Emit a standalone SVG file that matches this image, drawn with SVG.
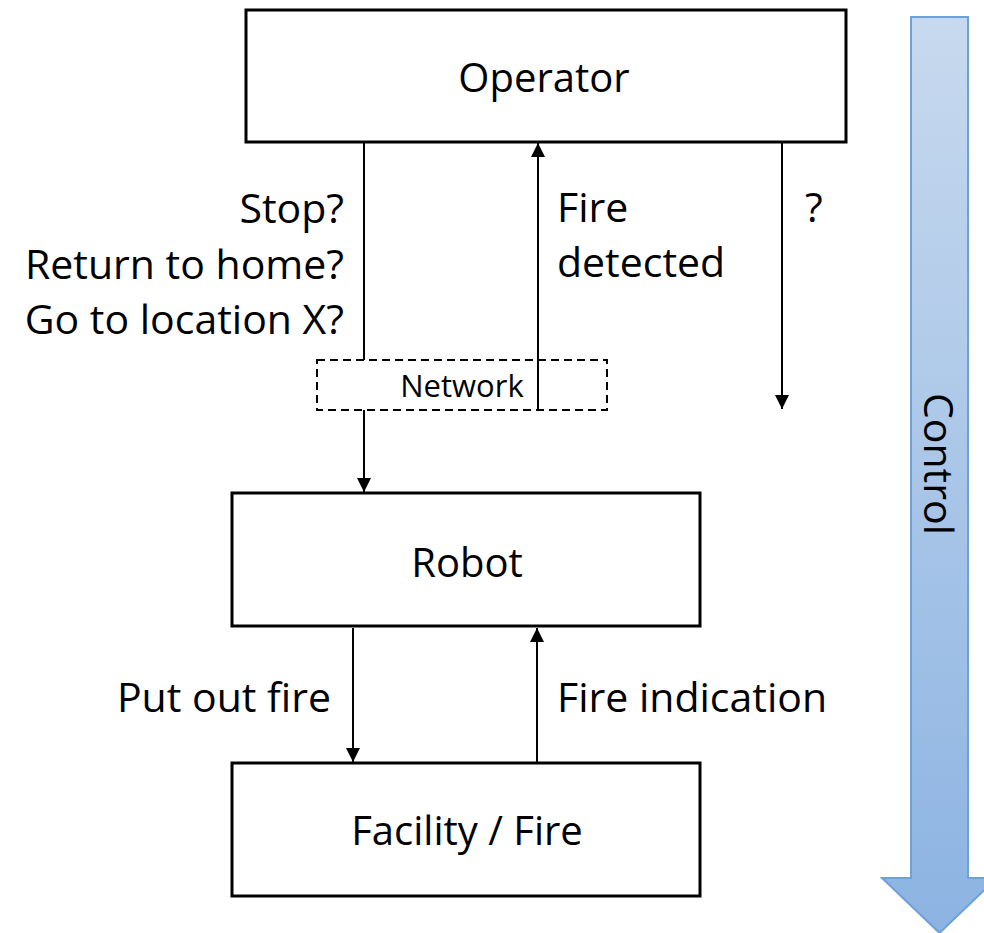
<svg xmlns="http://www.w3.org/2000/svg" width="984" height="933" viewBox="0 0 984 933">
<style>
.box{fill:#fff;stroke:#000;stroke-width:3}
.net{fill:none;stroke:#000;stroke-width:2;stroke-dasharray:8 5}
.ln{stroke:#000;stroke-width:2;fill:none}
text{font-family:"Open Sans","Liberation Sans",sans-serif;fill:#000}
.big{font-size:40px}
.lbl{font-size:41px}
</style>
<defs>
<marker id="ah2" viewBox="0 0 10 10" refX="10" refY="5" markerWidth="14" markerHeight="14" markerUnits="userSpaceOnUse" orient="auto">
<path d="M0,0 L10,5 L0,10 z" fill="#000"/>
</marker>
<linearGradient id="cg" x1="0" y1="0" x2="0" y2="1">
<stop offset="0" stop-color="#c7d9ee"/>
<stop offset="1" stop-color="#8cb3e2"/>
</linearGradient>
</defs>
<g id="control">
<path d="M911,17 L968,17 L968,878 L997,878 L939.5,933 L882,878 L911,878 Z" fill="url(#cg)" stroke="#6fa0d9" stroke-width="2"/>
<text class="lbl" transform="translate(924,464) rotate(90)" text-anchor="middle">Control</text>
</g>
<g id="connectors">
<line class="ln" x1="364" y1="142" x2="364" y2="360"/>
<line class="ln" x1="364" y1="410" x2="364" y2="492" marker-end="url(#ah2)"/>
<line class="ln" x1="538" y1="410" x2="538" y2="360"/>
<line class="ln" x1="538" y1="360" x2="538" y2="143" marker-end="url(#ah2)"/>
<line class="ln" x1="782" y1="142" x2="782" y2="409" marker-end="url(#ah2)"/>
<line class="ln" x1="353" y1="628" x2="353" y2="762" marker-end="url(#ah2)"/>
<line class="ln" x1="537" y1="762" x2="537" y2="628" marker-end="url(#ah2)"/>
</g>
<g id="operator">
<rect class="box" x="246" y="10" width="600" height="132"/>
<text class="big" x="544" y="92" text-anchor="middle">Operator</text>
</g>
<g id="network">
<rect class="net" x="317" y="360" width="290" height="50"/>
<text x="462" y="397" font-size="31" text-anchor="middle">Network</text>
</g>
<g id="robot">
<rect class="box" x="232" y="493" width="468" height="133"/>
<text class="big" x="467" y="577" text-anchor="middle">Robot</text>
</g>
<g id="facility">
<rect class="box" x="232" y="763" width="468" height="133"/>
<text class="big" x="467" y="845" text-anchor="middle">Facility / Fire</text>
</g>
<g id="labels">
<text class="lbl" x="344" y="223" text-anchor="end">Stop?</text>
<text class="lbl" x="344" y="279" text-anchor="end">Return to home?</text>
<text class="lbl" x="344" y="334" text-anchor="end">Go to location X?</text>
<text class="lbl" x="557" y="222">Fire</text>
<text class="lbl" x="557" y="277">detected</text>
<text class="lbl" x="805" y="222">?</text>
<text class="lbl" x="331" y="712" text-anchor="end">Put out fire</text>
<text class="lbl" x="557" y="712">Fire indication</text>
</g>
</svg>
